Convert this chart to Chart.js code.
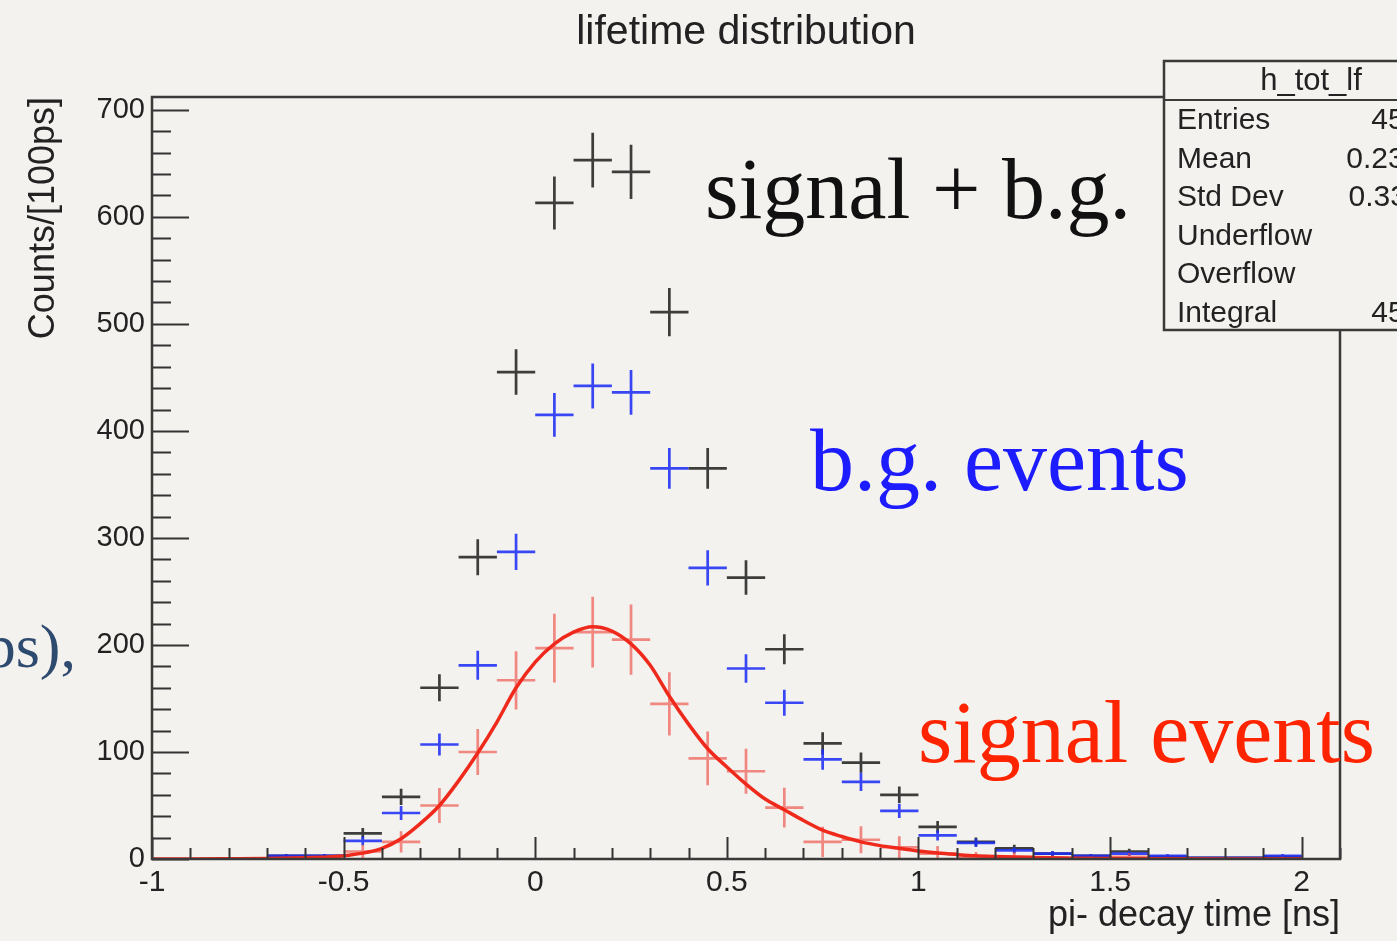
<!DOCTYPE html>
<html><head><meta charset="utf-8">
<script src="https://cdn.jsdelivr.net/npm/chart.js@4.4.1/dist/chart.umd.min.js"></script>
<style>html,body{margin:0;padding:0;background:#f4f2ee;}canvas{display:block;}</style>
</head><body>
<canvas id="c" width="1397" height="941"></canvas>
<script>
// ---- data ----
const binCenters   = [-0.95,-0.85,-0.75,-0.65,-0.55,-0.45,-0.35,-0.25,-0.15,-0.05,0.05,0.15,0.25,0.35,0.45,0.55,0.65,0.75,0.85,0.95,1.05,1.15,1.25,1.35,1.45,1.55,1.65,1.75,1.85,1.95];
const totalCounts  = [0,0,0,3,3,24,58,160,282,455,613,653,642,511,365,263,196,108,90,60,30,16,10,5,3,7,2,1,1,2];
const totalErrors  = [0,0,0,1.7,1.7,4.9,7.6,12.6,16.8,21.3,24.8,25.6,25.3,22.6,19.1,16.2,14,10.4,9.5,7.7,5.5,4,3.2,2.2,1.7,2.6,1.4,1,1,1.4];
const bgCounts     = [0,0,0,3,3,17,43,107,181,287,415,442,436,365,272,178,146,93,72,45,22,15,8,5,3,5,3,1,1,3];
const bgErrors     = [0,0,0,1.7,1.7,4.1,6.6,10.3,13.5,16.9,20.4,21,20.9,19.1,16.5,13.3,12.1,9.6,8.5,6.7,4.7,3.9,2.8,2.2,1.7,2.2,1.7,1,1,1.7];
const signalCounts = [0,0,0,0,0,7,16,50,100,167,197,212,205,145,94,82,48,16,18,11,5,1,2,0,0,2,0,0,0,0];
const signalErrors = [0,0,0,0,0,6.4,10,16.3,21.5,27.2,32.1,33.1,32.8,29.6,25.2,21,18.5,14.2,12.7,10.2,7.2,5.6,4.2,3.2,2.4,3.5,2.2,1.4,1.4,2.2];
const fitX = [-1,-0.9,-0.8,-0.7,-0.6,-0.53,-0.45,-0.4,-0.35,-0.3,-0.25,-0.2,-0.15,-0.1,-0.05,0,0.05,0.1,0.15,0.2,0.25,0.3,0.35,0.4,0.45,0.5,0.55,0.6,0.65,0.7,0.75,0.8,0.85,0.9,0.95,1.0,1.05,1.1,1.15,1.2,1.3,1.4,1.5,1.6,1.8,2.0];
const fitY = [0,0,0.2,0.5,1.2,2,5.5,10,19,33,50,73,99,128,160,184,201,212,217,213,201,181,152,126,103,86,70,56,46,36,27,21,16,12.5,10,7.5,5.6,4.2,3,2.3,1.3,0.8,0.5,0.3,0.1,0];
const xTickValues = [-1,-0.5,0,0.5,1,1.5,2];
const xTickLabels = ['-1','-0.5','0','0.5','1','1.5','2'];
const yTickValues = [0,100,200,300,400,500,600,700];
const yTickLabels = ['0','100','200','300','400','500','600','700'];
const binWidth = 0.1;

const BG = '#f4f2ee';
const SANS = '"Liberation Sans", Arial, sans-serif';
const SERIF = '"Liberation Serif", "DejaVu Serif", serif';

const crossPlugin = {
  id: 'crosses',
  beforeDatasetsDraw(chart) {
    const ctx = chart.ctx, xs = chart.scales.x, ys = chart.scales.y, a = chart.chartArea;
    ctx.save();
    ctx.beginPath(); ctx.rect(a.left, a.top, a.right - a.left, a.bottom - a.top); ctx.clip();
    chart.data.datasets.forEach((ds) => {
      if (!ds.errors) return;
      ctx.strokeStyle = ds.crossColor; ctx.lineWidth = ds.crossWidth;
      ds.data.forEach((p, j) => {
        const e = ds.errors[j];
        if (p.y === 0 && e === 0) return;
        const x0 = xs.getPixelForValue(p.x - binWidth / 2), x1 = xs.getPixelForValue(p.x + binWidth / 2);
        const xc = xs.getPixelForValue(p.x), yc = ys.getPixelForValue(p.y);
        const y0 = ys.getPixelForValue(p.y - e), y1 = ys.getPixelForValue(p.y + e);
        ctx.beginPath();
        ctx.moveTo(x0, yc); ctx.lineTo(x1, yc);
        ctx.moveTo(xc, y0); ctx.lineTo(xc, y1);
        ctx.stroke();
      });
    });
    ctx.restore();
  }
};

const framePlugin = {
  id: 'frame',
  beforeDraw(chart) {
    const ctx = chart.ctx;
    ctx.save(); ctx.fillStyle = BG; ctx.fillRect(0, 0, chart.width, chart.height); ctx.restore();
  },
  afterDraw(chart) {
    const ctx = chart.ctx, xs = chart.scales.x, ys = chart.scales.y, a = chart.chartArea;
    ctx.save();
    ctx.strokeStyle = '#333'; ctx.lineWidth = 2;
    ctx.beginPath();
    for (let v = 0; v <= 700; v += 20) {
      const y = Math.round(ys.getPixelForValue(v)) + 0.5;
      const len = (v % 100 === 0) ? 37 : 19;
      ctx.moveTo(a.left, y); ctx.lineTo(a.left + len, y);
    }
    for (let k = -10; k <= 21; k++) {
      const x = Math.round(xs.getPixelForValue(k / 10)) + 0.5;
      const len = (k % 5 === 0) ? 22 : 11;
      ctx.moveTo(x, a.bottom); ctx.lineTo(x, a.bottom - len);
    }
    ctx.stroke();
    ctx.strokeStyle = '#3a3a3a'; ctx.lineWidth = 2.5;
    ctx.strokeRect(a.left, a.top, a.right - a.left, a.bottom - a.top);
    ctx.restore();

    // slide annotations
    ctx.save();
    ctx.textBaseline = 'alphabetic'; ctx.textAlign = 'left';
    ctx.font = '86px ' + SERIF;
    ctx.fillStyle = '#111'; ctx.fillText('signal + b.g.', 705, 218);
    ctx.font = '88px ' + SERIF;
    ctx.fillStyle = '#1c1cff'; ctx.fillText('b.g. events', 810, 490);
    ctx.fillStyle = '#ff2400'; ctx.fillText('signal events', 918, 762);
    ctx.font = '62px ' + SERIF; ctx.fillStyle = '#2e4a6e'; ctx.textAlign = 'right';
    ctx.fillText('ps),', 76, 667);
    ctx.restore();

    // stats box
    ctx.save();
    const bx = 1164, by = 61, bw = 294, bh = 269;
    ctx.fillStyle = BG; ctx.fillRect(bx, by, bw, bh);
    ctx.strokeStyle = '#3a3a3a'; ctx.lineWidth = 2.5; ctx.strokeRect(bx, by, bw, bh);
    ctx.beginPath(); ctx.moveTo(bx, 100); ctx.lineTo(bx + bw, 100); ctx.lineWidth = 2; ctx.stroke();
    ctx.fillStyle = '#222'; ctx.textBaseline = 'middle';
    ctx.font = '31px ' + SANS; ctx.textAlign = 'center';
    ctx.fillText('h_tot_lf', bx + bw / 2, 81);
    ctx.font = '30px ' + SANS;
    const rows = [['Entries','4536'],['Mean','0.2312'],['Std Dev','0.3311'],['Underflow','0'],['Overflow','0'],['Integral','4536']];
    rows.forEach((r, i) => {
      const y = 121 + i * 38.5;
      ctx.textAlign = 'left'; ctx.fillText(r[0], 1177, y);
      ctx.textAlign = 'right'; ctx.fillText(r[1], 1438, y);
    });
    ctx.restore();

    // title
    ctx.save();
    ctx.font = '41px ' + SANS; ctx.fillStyle = '#222'; ctx.textAlign = 'center'; ctx.textBaseline = 'middle';
    ctx.fillText('lifetime distribution', 746, 33);
    ctx.restore();
  }
};

const pts = (xsArr, ysArr) => xsArr.map((x, i) => ({x: x, y: ysArr[i]}));

new Chart(document.getElementById('c'), {
  type: 'scatter',
  data: {
    datasets: [
      { type: 'line', label: 'fit', data: pts(fitX, fitY), borderColor: '#ef2a1c', borderWidth: 3.5,
        pointRadius: 0, cubicInterpolationMode: 'monotone', fill: false, order: 0 },
      { label: 'signal + b.g.', data: pts(binCenters, totalCounts), errors: totalErrors,
        crossColor: 'rgba(35,35,35,0.88)', crossWidth: 2.7, pointRadius: 0, order: 1 },
      { label: 'b.g. events', data: pts(binCenters, bgCounts), errors: bgErrors,
        crossColor: 'rgba(30,45,245,0.88)', crossWidth: 2.7, pointRadius: 0, order: 2 },
      { label: 'signal events', data: pts(binCenters, signalCounts), errors: signalErrors,
        crossColor: 'rgba(238,70,60,0.62)', crossWidth: 2.7, pointRadius: 0, order: 3 }
    ]
  },
  options: {
    responsive: false, animation: false, devicePixelRatio: 1,
    layout: { padding: { left: 0, top: 97, right: 57, bottom: 0 } },
    plugins: { legend: { display: false }, tooltip: { enabled: false } },
    scales: {
      x: {
        type: 'linear', min: -1, max: 2.1,
        afterFit(s) { s.height = 82; },
        afterBuildTicks(s) { s.ticks = xTickValues.map(v => ({value: v})); },
        grid: { display: false, drawTicks: false }, border: { display: false },
        ticks: { font: { family: SANS, size: 30 }, color: '#222', padding: 6, maxRotation: 0, autoSkip: false,
                 callback: (v) => { const i = xTickValues.indexOf(v); return i >= 0 ? xTickLabels[i] : ''; } },
        title: { display: true, text: 'pi- decay time [ns]', align: 'end', color: '#222',
                 font: { family: SANS, size: 36 }, padding: { top: 0, bottom: 3 } }
      },
      y: {
        type: 'linear', min: 0, max: 712,
        afterFit(s) { s.width = 152; },
        afterBuildTicks(s) { s.ticks = yTickValues.map(v => ({value: v})); },
        grid: { display: false, drawTicks: false }, border: { display: false },
        ticks: { font: { family: SANS, size: 29 }, color: '#222', padding: 7, autoSkip: false,
                 callback: (v) => { const i = yTickValues.indexOf(v); return i >= 0 ? yTickLabels[i] : ''; } },
        title: { display: true, text: 'Counts/[100ps]', align: 'end', color: '#222',
                 font: { family: SANS, size: 36 }, padding: { top: 22, bottom: 0 } }
      }
    }
  },
  plugins: [crossPlugin, framePlugin]
});
</script>
</body></html>
